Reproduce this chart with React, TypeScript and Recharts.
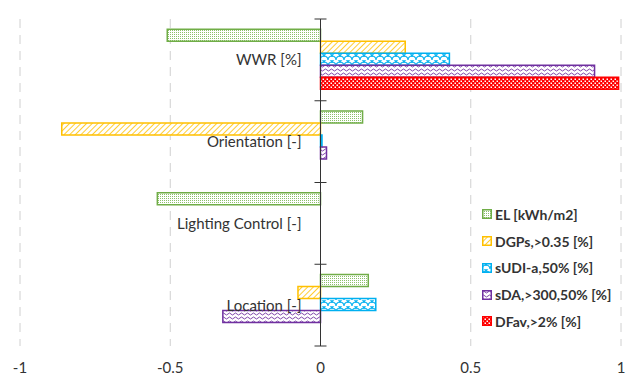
import React from 'react';
import { BarChart, Bar, XAxis, YAxis, CartesianGrid, ReferenceLine } from 'recharts';

document.body.style.margin = '0';

const categories = ['WWR [%]', 'Orientation [-]', 'Lighting Control [-]', 'Location [-]'];
const elValues = [-0.51, 0.14, -0.543, 0.159];
const dgpValues = [0.282, -0.861, 0, -0.075];
const sudiValues = [0.429, 0.005, 0, 0.184];
const sdaValues = [0.912, 0.02, 0, -0.325];
const dfavValues = [0.992, 0, 0, 0];
const xTicks = [-1, -0.5, 0, 0.5, 1];

const series = [
  { key: 'el', name: 'EL [kWh/m2]', color: '#70AD47', pattern: 'pEL', values: elValues },
  { key: 'dgp', name: 'DGPs,>0.35 [%]', color: '#FFC000', pattern: 'pDGP', values: dgpValues },
  { key: 'sudi', name: 'sUDI-a,50% [%]', color: '#00B0F0', pattern: 'pSUDI', values: sudiValues },
  { key: 'sda', name: 'sDA,>300,50% [%]', color: '#7030A0', pattern: 'pSDA', values: sdaValues },
  { key: 'dfav', name: 'DFav,>2% [%]', color: '#FF0000', pattern: 'pDFAV', values: dfavValues },
];

const data = categories.map((name, i) => {
  const row: Record<string, string | number> = { name };
  series.forEach((s) => { row[s.key] = s.values[i]; });
  return row;
});

// layout
const W = 639;
const H = 388;
const LEFT = 20;
const RIGHT = 18;
const TOP = 19;
const XAXIS_H = 42;
const ZERO_X = LEFT + (W - LEFT - RIGHT) / 2;
const BAND = (H - TOP - XAXIS_H) / categories.length;
const FONT = 'Lato, "Open Sans", sans-serif';
const TEXT = '#333333';

// category label left of the zero axis + small cross ticks at category boundaries
function CategoryTick(props: any) {
  const { y, payload, index } = props;
  const last = index === categories.length - 1;
  return (
    <g>
      <line x1={ZERO_X - 6} x2={ZERO_X + 6} y1={y - BAND / 2} y2={y - BAND / 2} stroke="#333" />
      {last && <line x1={ZERO_X - 6} x2={ZERO_X + 6} y1={y + BAND / 2} y2={y + BAND / 2} stroke="#333" />}
      <text x={ZERO_X - 19} y={y} dy="0.36em" textAnchor="end" fontSize={15} fill={TEXT} fontFamily={FONT}>
        {payload.value}
      </text>
    </g>
  );
}

function Patterns() {
  return (
    <defs>
      <pattern id="pEL" width="2" height="2" patternUnits="userSpaceOnUse">
        <rect width="2" height="2" fill="#fff" />
        <rect width="1" height="1" fill="#8cc06a" />
      </pattern>
      <pattern id="pDGP" width="4" height="4" patternUnits="userSpaceOnUse" patternTransform="rotate(45)">
        <rect width="4" height="4" fill="#fff" />
        <line x1="0" y1="0" x2="0" y2="4" stroke="#FFC000" strokeWidth="1.6" />
      </pattern>
      <pattern id="pSUDI" width="8" height="6" patternUnits="userSpaceOnUse">
        <rect width="8" height="6" fill="#fff" />
        <path d="M0,6 A4,4 0 0,1 8,6" stroke="#00B0F0" strokeWidth="1.2" fill="none" />
        <path d="M-4,3 A4,4 0 0,1 4,3 M4,3 A4,4 0 0,1 12,3" stroke="#00B0F0" strokeWidth="1.2" fill="none" />
      </pattern>
      <pattern id="pSDA" width="6" height="4" patternUnits="userSpaceOnUse">
        <rect width="6" height="4" fill="#fff" />
        <path d="M0,2 Q1.5,0 3,2 T6,2" stroke="#7030A0" strokeWidth="0.9" fill="none" />
      </pattern>
      <pattern id="pDFAV" width="4" height="4" patternUnits="userSpaceOnUse">
        <rect width="4" height="4" fill="#FF0000" />
        <rect x="0.5" y="0.5" width="1.5" height="1.5" fill="#fff" />
        <rect x="2.5" y="2.5" width="1.5" height="1.5" fill="#fff" />
      </pattern>
    </defs>
  );
}

function LegendBox() {
  return (
    <div style={{ position: 'absolute', left: 482, top: 201, fontFamily: FONT, fontWeight: 700, fontSize: 14, color: TEXT }}>
      {series.map((s) => (
        <div key={s.key} style={{ height: 26.75, display: 'flex', alignItems: 'center' }}>
          <svg width={10} height={10} style={{ marginRight: 3 }}>
            <rect x={0.75} y={0.75} width={8.5} height={8.5} fill={`url(#${s.pattern})`} stroke={s.color} strokeWidth={1.5} />
          </svg>
          <span>{s.name}</span>
        </div>
      ))}
    </div>
  );
}

export default function App() {
  return (
    <div style={{ position: 'relative', width: W, height: H, background: '#fff' }}>
      <BarChart
        width={W}
        height={H}
        data={data}
        layout="vertical"
        margin={{ top: TOP, right: RIGHT, bottom: 0, left: LEFT - 1 }}
        barCategoryGap="12.5%"
        barGap={0}
      >
        <Patterns />
        <CartesianGrid horizontal={false} stroke="#d0d0d0" strokeDasharray="9 7" />
        <XAxis
          type="number"
          domain={[-1, 1]}
          ticks={xTicks}
          axisLine={false}
          tickLine={false}
          height={XAXIS_H}
          tickMargin={10}
          tick={{ fontSize: 15, fill: TEXT, fontFamily: FONT }}
        />
        <YAxis
          type="category"
          dataKey="name"
          width={1}
          axisLine={false}
          tickLine={false}
          interval={0}
          tick={(p: any) => <CategoryTick {...p} />}
        />
        {series.map((s) => (
          <Bar
            key={s.key}
            dataKey={s.key}
            name={s.name}
            fill={`url(#${s.pattern})`}
            stroke={s.color}
            strokeWidth={1.5}
            isAnimationActive={false}
          />
        ))}
        <ReferenceLine x={0} stroke="#333" strokeWidth={1} />
      </BarChart>
      <LegendBox />
    </div>
  );
}
